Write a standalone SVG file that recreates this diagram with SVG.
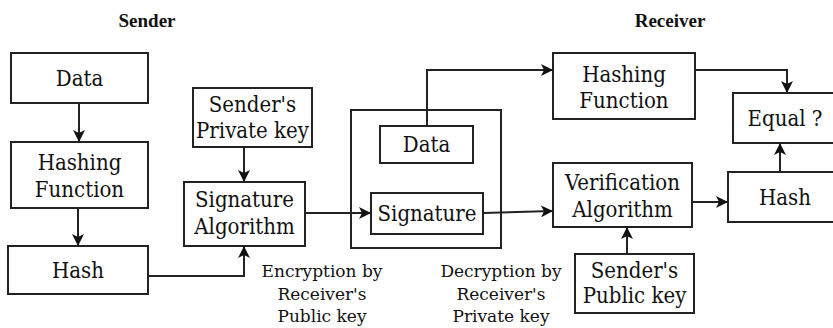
<svg xmlns="http://www.w3.org/2000/svg" width="833" height="328" viewBox="0 0 833 328">
<defs>
<style>
.box{fill:#fff;stroke:#222;stroke-width:2}
.t{font-family:"DejaVu Serif Condensed","DejaVu Serif",serif;font-size:22px;fill:#111;text-anchor:middle}
.a{font-family:"DejaVu Serif",serif;font-size:17px;fill:#111;text-anchor:middle}
.h{font-family:"Liberation Serif",serif;font-size:19px;font-weight:bold;fill:#111;text-anchor:middle}
.c{fill:none;stroke:#222;stroke-width:2}
</style>
<marker id="ar" viewBox="0 0 12 12" refX="11" refY="6" markerWidth="12" markerHeight="12" markerUnits="userSpaceOnUse" orient="auto">
<path d="M0,0 L12,6 L0,12 L3,6 Z" fill="#111"/>
</marker>
</defs>
<rect width="833" height="328" fill="#fff"/>
<text class="h" x="147" y="27">Sender</text>
<text class="h" x="670" y="27">Receiver</text>
<g id="data"><rect class="box" x="11" y="53" width="137" height="50"/><text class="t" x="79.5" y="86">Data</text></g>
<g id="hashing-function"><rect class="box" x="11" y="142" width="137" height="66"/><text class="t" x="79.5" y="170">Hashing</text><text class="t" x="79.5" y="197">Function</text></g>
<g id="hash"><rect class="box" x="8" y="246" width="140" height="48"/><text class="t" x="78" y="278">Hash</text></g>
<g id="senders-private-key"><rect class="box" x="193" y="88" width="119" height="59"/><text class="t" x="252.5" y="112">Sender's</text><text class="t" x="252.5" y="138">Private key</text></g>
<g id="signature-algorithm"><rect class="box" x="184" y="182" width="121" height="64"/><text class="t" x="244.5" y="207">Signature</text><text class="t" x="244.5" y="234">Algorithm</text></g>
<g id="message"><rect class="box" x="351" y="110" width="150" height="138"/></g>
<g id="msg-data"><rect class="box" x="380" y="126" width="93" height="37"/><text class="t" x="426.5" y="152">Data</text></g>
<g id="msg-signature"><rect class="box" x="371" y="193" width="112" height="41"/><text class="t" x="427" y="221">Signature</text></g>
<g id="r-hashing-function"><rect class="box" x="553" y="53" width="142" height="66"/><text class="t" x="624" y="82">Hashing</text><text class="t" x="624" y="108">Function</text></g>
<g id="equal"><rect class="box" x="733" y="93" width="110" height="50"/><text class="t" x="785" y="126">Equal ?</text></g>
<g id="verification-algorithm"><rect class="box" x="553" y="163" width="139" height="64"/><text class="t" x="622.5" y="190">Verification</text><text class="t" x="622.5" y="217">Algorithm</text></g>
<g id="r-hash"><rect class="box" x="728" y="172" width="115" height="50"/><text class="t" x="785" y="205">Hash</text></g>
<g id="senders-public-key"><rect class="box" x="575" y="254" width="119" height="59"/><text class="t" x="634.5" y="278">Sender's</text><text class="t" x="634.5" y="303">Public key</text></g>
<g id="encryption-label"><text class="a" x="322" y="277">Encryption by</text><text class="a" x="322" y="300">Receiver's</text><text class="a" x="322" y="322">Public key</text></g>
<g id="decryption-label"><text class="a" x="501" y="277">Decryption by</text><text class="a" x="501" y="300">Receiver's</text><text class="a" x="501" y="322">Private key</text></g>
<g id="connectors">
<path class="c" d="M79,103 V141" marker-end="url(#ar)"/>
<path class="c" d="M78,208 V245" marker-end="url(#ar)"/>
<path class="c" d="M244,147 V181" marker-end="url(#ar)"/>
<path class="c" d="M148,276 H244 V247" marker-end="url(#ar)"/>
<path class="c" d="M305,213 H370" marker-end="url(#ar)"/>
<path class="c" d="M427,126 V70 H552" marker-end="url(#ar)"/>
<path class="c" d="M483,213 L552,211" marker-end="url(#ar)"/>
<path class="c" d="M695,70 H787 V92" marker-end="url(#ar)"/>
<path class="c" d="M692,202 H727" marker-end="url(#ar)"/>
<path class="c" d="M780,172 V144" marker-end="url(#ar)"/>
<path class="c" d="M627,254 V228" marker-end="url(#ar)"/>
</g>
</svg>
